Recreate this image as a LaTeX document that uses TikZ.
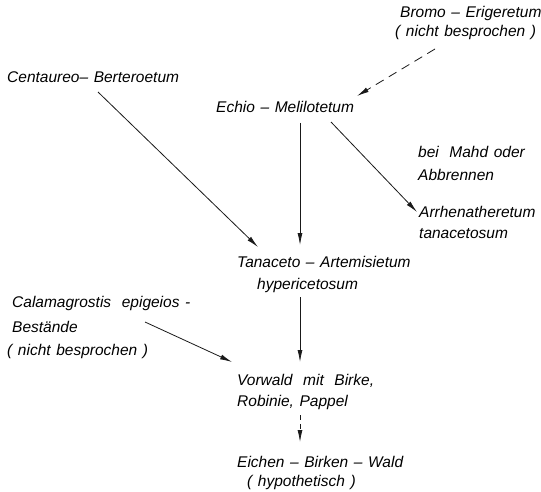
\documentclass[tikz,border=0pt]{standalone}
\usepackage{fontspec}
\setmainfont{Liberation Sans}[WordSpace=1.3]
\usetikzlibrary{arrows.meta,calc}
\newcommand\myrow[1]{\hbox{#1}}
\newcommand\wsp{\hspace{5pt}}
\tikzset{
  lbl/.style={anchor=base west, inner sep=0pt,
    font=\fontsize{15.5}{21}\selectfont\itshape, text=black},
  arr/.style={draw=black!90, line width=0.8pt, -{Latex[length=12pt,width=5pt]}},
  darr/.style={arr, dash pattern=on 9pt off 6pt},
  sdarr/.style={arr, dash pattern=on 5pt off 4pt}
}
\begin{document}
\begin{tikzpicture}[x=1pt,y=-1pt]
\useasboundingbox (0,0) rectangle (541,492);
\node[lbl] (bromo) at (395,18) {\vtop{\myrow{\hspace*{5pt}Bromo – Erigeretum}\vskip-2pt\myrow{( nicht besprochen )}}};
\node[lbl] (cent) at (7,83) {Centaureo– Berteroetum};
\node[lbl] (echio) at (216,113) {Echio – Melilotetum};
\node[lbl] (mahd) at (418,158) {\vtop{\myrow{bei\wsp{} Mahd oder}\vskip1pt\myrow{Abbrennen}}};
\node[lbl] (arrh) at (419,217) {\vtop{\myrow{Arrhenatheretum}\myrow{tanacetosum}}};
\node[lbl] (tan) at (237,267) {\vtop{\myrow{Tanaceto – Artemisietum}\vskip1pt\myrow{\hspace*{20pt}hypericetosum}}};
\node[lbl] (calam) at (7,307) {\vtop{\myrow{\hspace*{5pt}Calamagrostis\wsp{} epigeios -}\vskip4pt\myrow{\hspace*{5pt}Bestände}\vskip2pt\myrow{( nicht besprochen )}}};
\node[lbl] (vorw) at (237,385) {\vtop{\myrow{Vorwald\wsp{} mit\wsp{} Birke,}\myrow{Robinie, Pappel}}};
\node[lbl] (eich) at (237,467) {\vtop{\myrow{Eichen – Birken – Wald}\vskip-2pt\myrow{\hspace*{10pt}( hypothetisch )}}};
\draw[darr] ($(bromo.base west)+(40,31)$) -- ($(echio.base west)+(141,-17)$);
\draw[arr] ($(cent.base west)+(91,9)$) -- ($(tan.base west)+(21,-20)$);
\draw[arr] ($(echio.base west)+(84,10)$) -- ($(tan.base west)+(63,-22)$);
\draw[arr] ($(echio.base west)+(115,9)$) -- ($(arrh.base west)+(-2,-5)$);
\draw[arr] ($(tan.base west)+(63,30)$) -- ($(vorw.base west)+(63,-23)$);
\draw[arr] ($(calam.base west)+(138,15)$) -- ($(vorw.base west)+(-5,-23)$);
\draw[sdarr] ($(vorw.base west)+(63,30)$) -- ($(eich.base west)+(63,-25)$);
\end{tikzpicture}
\end{document}
